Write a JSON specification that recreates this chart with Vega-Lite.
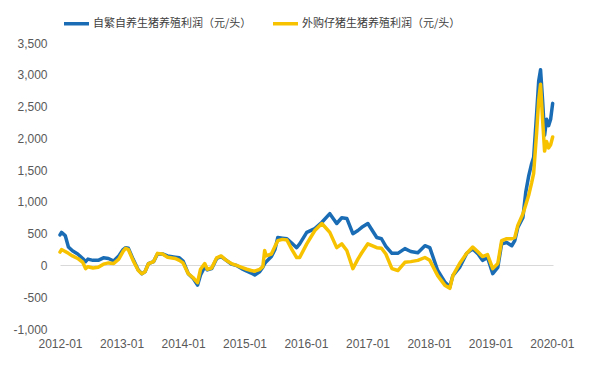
{
  "$schema": "https://vega.github.io/schema/vega-lite/v6.json",
  "width": 493,
  "height": 286,
  "autosize": {"type": "none"},
  "padding": {"left": 60, "top": 43, "right": 48, "bottom": 36},
  "background": "white",
  "config": {"view": {"stroke": null}, "font": "Liberation Sans"},
  "datasets": {
    "self": [
      {"date": "2012/01/01", "profit": 480}, {"date": "2012/01/10", "profit": 520}, {"date": "2012/02/01", "profit": 470}, {"date": "2012/02/20", "profit": 290},
      {"date": "2012/03/15", "profit": 230}, {"date": "2012/04/15", "profit": 180}, {"date": "2012/05/15", "profit": 110}, {"date": "2012/06/01", "profit": 60},
      {"date": "2012/06/15", "profit": 100}, {"date": "2012/07/15", "profit": 80}, {"date": "2012/08/15", "profit": 80}, {"date": "2012/09/15", "profit": 120},
      {"date": "2012/10/15", "profit": 110}, {"date": "2012/11/15", "profit": 70}, {"date": "2012/12/15", "profit": 150}, {"date": "2013/01/10", "profit": 250},
      {"date": "2013/01/25", "profit": 280}, {"date": "2013/02/10", "profit": 270}, {"date": "2013/03/10", "profit": 100}, {"date": "2013/04/10", "profit": -70},
      {"date": "2013/05/01", "profit": -130}, {"date": "2013/05/20", "profit": -100}, {"date": "2013/06/10", "profit": 30}, {"date": "2013/07/10", "profit": 60},
      {"date": "2013/08/02", "profit": 180}, {"date": "2013/09/01", "profit": 180}, {"date": "2013/10/01", "profit": 150}, {"date": "2013/11/15", "profit": 130},
      {"date": "2013/12/10", "profit": 120}, {"date": "2014/01/01", "profit": 70}, {"date": "2014/02/01", "profit": -130}, {"date": "2014/03/01", "profit": -200},
      {"date": "2014/03/28", "profit": -310}, {"date": "2014/04/15", "profit": -150}, {"date": "2014/05/10", "profit": -20}, {"date": "2014/05/25", "profit": -70},
      {"date": "2014/06/20", "profit": -50}, {"date": "2014/07/20", "profit": 110}, {"date": "2014/08/15", "profit": 140}, {"date": "2014/09/15", "profit": 80},
      {"date": "2014/10/15", "profit": 20}, {"date": "2014/11/15", "profit": 0}, {"date": "2014/12/15", "profit": -50}, {"date": "2015/01/15", "profit": -90},
      {"date": "2015/02/10", "profit": -120}, {"date": "2015/03/03", "profit": -150}, {"date": "2015/04/01", "profit": -100}, {"date": "2015/04/20", "profit": -30},
      {"date": "2015/05/01", "profit": 30}, {"date": "2015/05/10", "profit": 60}, {"date": "2015/06/10", "profit": 140}, {"date": "2015/07/01", "profit": 250},
      {"date": "2015/07/18", "profit": 440}, {"date": "2015/08/15", "profit": 430}, {"date": "2015/09/10", "profit": 420}, {"date": "2015/10/10", "profit": 350},
      {"date": "2015/11/07", "profit": 280}, {"date": "2015/11/25", "profit": 340}, {"date": "2016/01/06", "profit": 520}, {"date": "2016/02/23", "profit": 580},
      {"date": "2016/04/05", "profit": 680}, {"date": "2016/05/22", "profit": 815}, {"date": "2016/07/02", "profit": 660}, {"date": "2016/08/01", "profit": 750},
      {"date": "2016/08/31", "profit": 740}, {"date": "2016/10/06", "profit": 500}, {"date": "2016/11/05", "profit": 550}, {"date": "2016/11/28", "profit": 600},
      {"date": "2017/01/03", "profit": 660}, {"date": "2017/02/25", "profit": 440}, {"date": "2017/03/25", "profit": 420}, {"date": "2017/04/20", "profit": 300},
      {"date": "2017/05/26", "profit": 190}, {"date": "2017/06/30", "profit": 190}, {"date": "2017/08/11", "profit": 265}, {"date": "2017/09/15", "profit": 220},
      {"date": "2017/10/27", "profit": 200}, {"date": "2017/12/08", "profit": 310}, {"date": "2018/01/06", "profit": 280}, {"date": "2018/02/22", "profit": -80},
      {"date": "2018/04/05", "profit": -260}, {"date": "2018/05/05", "profit": -340}, {"date": "2018/05/23", "profit": -160}, {"date": "2018/07/02", "profit": -30},
      {"date": "2018/08/13", "profit": 190}, {"date": "2018/09/18", "profit": 260}, {"date": "2018/10/20", "profit": 180}, {"date": "2018/11/15", "profit": 80},
      {"date": "2018/12/15", "profit": 125}, {"date": "2019/01/15", "profit": -130}, {"date": "2019/02/14", "profit": -30}, {"date": "2019/03/09", "profit": 340},
      {"date": "2019/04/08", "profit": 360}, {"date": "2019/05/08", "profit": 310}, {"date": "2019/05/26", "profit": 390}, {"date": "2019/06/13", "profit": 600},
      {"date": "2019/07/13", "profit": 750}, {"date": "2019/07/30", "profit": 1150}, {"date": "2019/08/16", "profit": 1400}, {"date": "2019/09/03", "profit": 1600},
      {"date": "2019/09/15", "profit": 1700}, {"date": "2019/10/03", "profit": 2400}, {"date": "2019/10/15", "profit": 2900}, {"date": "2019/10/26", "profit": 3080},
      {"date": "2019/11/07", "profit": 2600}, {"date": "2019/11/19", "profit": 2050}, {"date": "2019/12/01", "profit": 2300}, {"date": "2019/12/13", "profit": 2200},
      {"date": "2019/12/25", "profit": 2300}, {"date": "2020/01/06", "profit": 2550}
    ],
    "bought": [
      {"date": "2012/01/01", "profit": 210}, {"date": "2012/01/10", "profit": 250}, {"date": "2012/02/01", "profit": 220}, {"date": "2012/02/20", "profit": 190},
      {"date": "2012/03/15", "profit": 150}, {"date": "2012/04/15", "profit": 110}, {"date": "2012/05/15", "profit": 50}, {"date": "2012/06/01", "profit": -50},
      {"date": "2012/06/15", "profit": -20}, {"date": "2012/07/15", "profit": -40}, {"date": "2012/08/15", "profit": -30}, {"date": "2012/09/15", "profit": 20},
      {"date": "2012/10/15", "profit": 40}, {"date": "2012/11/15", "profit": 30}, {"date": "2012/12/15", "profit": 100}, {"date": "2013/01/10", "profit": 220},
      {"date": "2013/01/25", "profit": 270}, {"date": "2013/02/10", "profit": 250}, {"date": "2013/03/10", "profit": 80}, {"date": "2013/04/10", "profit": -80},
      {"date": "2013/05/01", "profit": -130}, {"date": "2013/05/20", "profit": -100}, {"date": "2013/06/10", "profit": 30}, {"date": "2013/07/10", "profit": 60},
      {"date": "2013/08/02", "profit": 190}, {"date": "2013/09/01", "profit": 180}, {"date": "2013/10/01", "profit": 130}, {"date": "2013/11/15", "profit": 110},
      {"date": "2013/12/10", "profit": 80}, {"date": "2014/01/01", "profit": 40}, {"date": "2014/02/01", "profit": -130}, {"date": "2014/03/01", "profit": -190},
      {"date": "2014/03/28", "profit": -270}, {"date": "2014/04/15", "profit": -60}, {"date": "2014/05/10", "profit": 30}, {"date": "2014/05/25", "profit": -60},
      {"date": "2014/06/20", "profit": -40}, {"date": "2014/07/20", "profit": 120}, {"date": "2014/08/15", "profit": 150}, {"date": "2014/09/15", "profit": 80},
      {"date": "2014/10/15", "profit": 30}, {"date": "2014/11/15", "profit": 0}, {"date": "2014/12/15", "profit": -30}, {"date": "2015/01/15", "profit": -60},
      {"date": "2015/02/10", "profit": -80}, {"date": "2015/03/03", "profit": -90}, {"date": "2015/04/01", "profit": -60}, {"date": "2015/04/20", "profit": -20},
      {"date": "2015/05/01", "profit": 235}, {"date": "2015/05/10", "profit": 150}, {"date": "2015/06/10", "profit": 180}, {"date": "2015/07/01", "profit": 300},
      {"date": "2015/07/18", "profit": 390}, {"date": "2015/08/15", "profit": 410}, {"date": "2015/09/10", "profit": 400}, {"date": "2015/10/10", "profit": 250},
      {"date": "2015/11/07", "profit": 125}, {"date": "2015/11/25", "profit": 125}, {"date": "2016/01/06", "profit": 340}, {"date": "2016/02/23", "profit": 550},
      {"date": "2016/04/05", "profit": 660}, {"date": "2016/05/22", "profit": 520}, {"date": "2016/07/02", "profit": 280}, {"date": "2016/08/01", "profit": 340},
      {"date": "2016/08/31", "profit": 235}, {"date": "2016/10/06", "profit": -50}, {"date": "2016/11/05", "profit": 100}, {"date": "2016/11/28", "profit": 200},
      {"date": "2017/01/03", "profit": 340}, {"date": "2017/02/25", "profit": 280}, {"date": "2017/03/25", "profit": 270}, {"date": "2017/04/20", "profit": 180},
      {"date": "2017/05/26", "profit": -50}, {"date": "2017/06/30", "profit": -80}, {"date": "2017/08/11", "profit": 50}, {"date": "2017/09/15", "profit": 60},
      {"date": "2017/10/27", "profit": 80}, {"date": "2017/12/08", "profit": 125}, {"date": "2018/01/06", "profit": 80}, {"date": "2018/02/22", "profit": -160},
      {"date": "2018/04/05", "profit": -310}, {"date": "2018/05/05", "profit": -360}, {"date": "2018/05/23", "profit": -160}, {"date": "2018/07/02", "profit": 30},
      {"date": "2018/08/13", "profit": 190}, {"date": "2018/09/18", "profit": 290}, {"date": "2018/10/20", "profit": 210}, {"date": "2018/11/15", "profit": 140},
      {"date": "2018/12/15", "profit": 170}, {"date": "2019/01/15", "profit": -50}, {"date": "2019/02/14", "profit": 30}, {"date": "2019/03/09", "profit": 390},
      {"date": "2019/04/08", "profit": 420}, {"date": "2019/05/08", "profit": 420}, {"date": "2019/05/26", "profit": 440}, {"date": "2019/06/13", "profit": 630},
      {"date": "2019/07/13", "profit": 810}, {"date": "2019/07/30", "profit": 950}, {"date": "2019/08/16", "profit": 1100}, {"date": "2019/09/03", "profit": 1300},
      {"date": "2019/09/15", "profit": 1450}, {"date": "2019/10/03", "profit": 2100}, {"date": "2019/10/15", "profit": 2600}, {"date": "2019/10/26", "profit": 2850},
      {"date": "2019/11/07", "profit": 2300}, {"date": "2019/11/19", "profit": 1800}, {"date": "2019/12/01", "profit": 1950}, {"date": "2019/12/13", "profit": 1850},
      {"date": "2019/12/25", "profit": 1900}, {"date": "2020/01/06", "profit": 2020}
    ]
  },
  "encoding": {
    "x": {
      "field": "date", "type": "temporal",
      "scale": {"domain": [{"year": 2012, "month": 1, "date": 1}, {"year": 2020, "month": 1, "date": 8}]},
      "axis": {"format": "%Y-%m", "tickCount": {"interval": "year", "step": 1}, "labelFont": "Liberation Sans", "labelFontSize": 12, "labelColor": "#595959", "ticks": false, "domain": false, "grid": false, "title": null, "labelPadding": 9, "labelFlush": false, "labelOverlap": false}
    },
    "y": {
      "field": "profit", "type": "quantitative",
      "scale": {"domain": [-1000, 3500], "nice": false, "zero": false},
      "axis": {"values": [-1000, -500, 0, 500, 1000, 1500, 2000, 2500, 3000, 3500], "tickCount": 10, "labelExpr": "replace(format(datum.value, ','), '\u2212', '-')", "labelFont": "Liberation Sans", "labelFontSize": 12, "labelColor": "#595959", "labelOverlap": false, "labelBound": false, "ticks": false, "domain": false, "grid": true, "gridColor": {"condition": {"test": "datum.value === 0", "value": "#d9d9d9"}, "value": "transparent"}, "title": null, "labelPadding": 13}
    }
  },
  "layer": [
    {
      "data": {"name": "self"},
      "mark": {"type": "line", "strokeWidth": 3.5, "strokeJoin": "round", "strokeCap": "round"},
      "encoding": {
        "color": {
          "datum": "自繁自养生猪养殖利润（元/头）", "type": "nominal",
          "scale": {"domain": ["自繁自养生猪养殖利润（元/头）", "外购仔猪生猪养殖利润（元/头）"], "range": ["#1a6db5", "#f7c200"]},
          "legend": {"orient": "none", "legendX": 2, "legendY": -34, "direction": "horizontal", "title": null, "symbolType": "stroke", "symbolSize": 625, "symbolStrokeWidth": 3.5, "labelFont": "Noto Sans CJK SC", "labelFontSize": 11, "labelColor": "#404040", "labelOffset": 2, "columnPadding": 14}
        }
      }
    },
    {
      "data": {"name": "bought"},
      "mark": {"type": "line", "strokeWidth": 3.5, "strokeJoin": "round", "strokeCap": "round"},
      "encoding": {
        "color": {"datum": "外购仔猪生猪养殖利润（元/头）", "type": "nominal"}
      }
    }
  ]
}
